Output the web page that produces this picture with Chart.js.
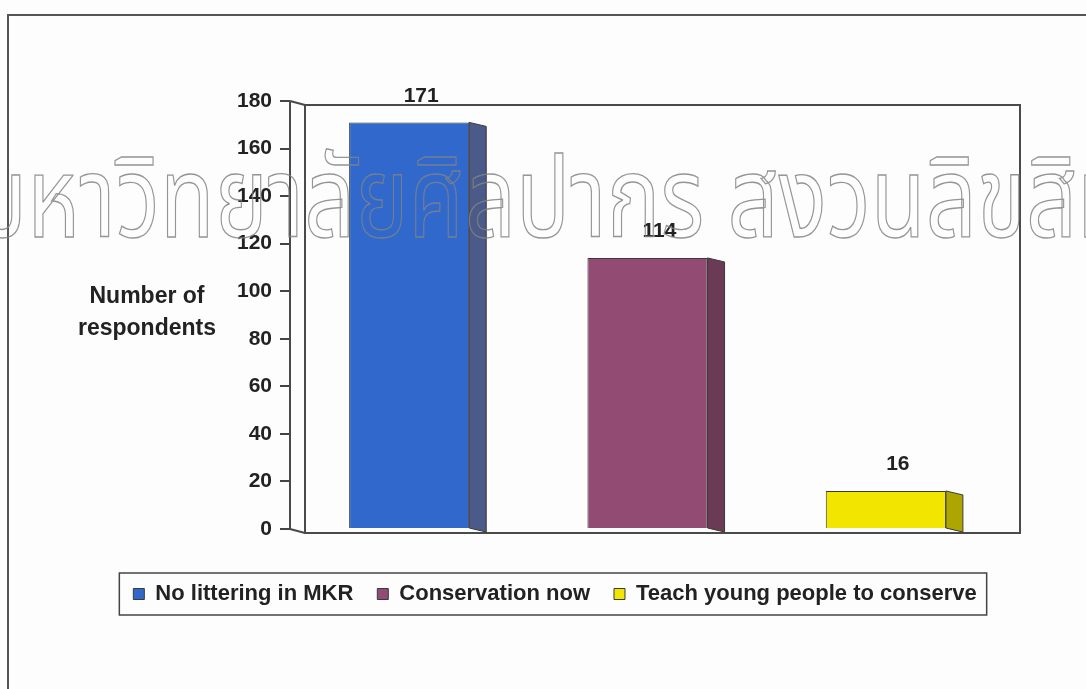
<!DOCTYPE html>
<html>
<head>
<meta charset="utf-8">
<script src="https://cdn.jsdelivr.net/npm/chart.js@4/dist/chart.umd.min.js"></script>
<style>
    html, body { margin: 0; padding: 0; background: #fff; }
    #wrap { position: relative; width: 1086px; height: 689px; }
</style>
</head>
<body>
<div id="wrap"><canvas id="surveyChart" width="1086" height="689"></canvas></div>
<script>
// survey answers
const categories = ['No littering in MKR', 'Conservation now', 'Teach young people to conserve'];
const respondents = [171, 114, 16];
const yTicks = [0, 20, 40, 60, 80, 100, 120, 140, 160, 180];
const yTitle = ['Number of', 'respondents'];
const watermark = 'มหาวิทยาลัยศิลปากร สงวนลิขสิทธิ์';

const frontColors = ['#3168cc', '#924b72', '#f2e600'];
const sideColors = ['#4b5a88', '#6b3b56', '#aea600'];

const DEPTH_X = 15;
const DEPTH_Y = 4;
const FONT = '"Liberation Sans", Arial, sans-serif';

// one dataset per answer so every bar gets its own legend entry
const datasets = categories.map((name, i) => ({
    label: name,
    data: categories.map((_, j) => (j === i ? respondents[i] : null)),
    backgroundColor: frontColors[i],
    borderColor: '#3a3a3a',
    borderWidth: 1,
    barPercentage: 0.504,
    categoryPercentage: 1
}));

// plot box drawn with a little depth: back wall, floor edge and slanted ticks
const boxPlugin = {
    id: 'box3d',
    beforeDatasetsDraw(chart) {
        const { ctx, chartArea: a } = chart;
        ctx.save();
        ctx.strokeStyle = '#4a4a4a';
        ctx.lineWidth = 2;
        ctx.strokeRect(a.left + DEPTH_X, a.top + DEPTH_Y, a.right - a.left, a.bottom - a.top);
        ctx.beginPath();
        ctx.moveTo(a.left, a.top);
        ctx.lineTo(a.left, a.bottom);
        ctx.moveTo(a.left, a.top);
        ctx.lineTo(a.left + DEPTH_X, a.top + DEPTH_Y);
        ctx.moveTo(a.left, a.bottom);
        ctx.lineTo(a.left + DEPTH_X, a.bottom + DEPTH_Y);
        ctx.stroke();
        ctx.restore();
    },
    afterDatasetsDraw(chart) {
        const { ctx } = chart;
        ctx.save();
        chart.data.datasets.forEach((ds, i) => {
            const meta = chart.getDatasetMeta(i);
            meta.data.forEach((bar, j) => {
                if (ds.data[j] == null) return;
                const { x, y, base, width } = bar.getProps(['x', 'y', 'base', 'width'], true);
                const r = x + width / 2;
                // side face
                ctx.beginPath();
                ctx.moveTo(r, y);
                ctx.lineTo(r + DEPTH_X + 2, y + DEPTH_Y);
                ctx.lineTo(r + DEPTH_X + 2, base + DEPTH_Y);
                ctx.lineTo(r, base);
                ctx.closePath();
                ctx.fillStyle = sideColors[i];
                ctx.fill();
                ctx.strokeStyle = '#3a3a3a';
                ctx.lineWidth = 1;
                ctx.stroke();
                // value label
                ctx.fillStyle = '#222';
                ctx.font = 'bold 21px ' + FONT;
                ctx.textAlign = 'center';
                ctx.textBaseline = 'bottom';
                ctx.fillText(String(ds.data[j]), x + 12, y - 16);
            });
        });
        ctx.restore();
    }
};

// outer frame, axis title, legend border and the watermark
const decorPlugin = {
    id: 'decor',
    beforeDraw(chart) {
        const { ctx } = chart;
        ctx.save();
        ctx.fillStyle = '#fdfdfd';
        ctx.fillRect(0, 0, chart.width, chart.height);
        ctx.strokeStyle = '#555';
        ctx.lineWidth = 2;
        ctx.strokeRect(8, 15, chart.width + 20, chart.height + 20);
        ctx.restore();
    },
    afterDraw(chart) {
        const { ctx, legend } = chart;
        ctx.save();
        ctx.fillStyle = '#222';
        ctx.font = 'bold 23px ' + FONT;
        ctx.textAlign = 'center';
        ctx.textBaseline = 'middle';
        ctx.fillText(yTitle[0], 147, 297);
        ctx.fillText(yTitle[1], 147, 329);

        // border round the legend items
        const items = legend.legendHitBoxes;
        if (items.length) {
            const first = items[0];
            const last = items[items.length - 1];
            ctx.strokeStyle = '#444';
            ctx.lineWidth = 1.5;
            ctx.strokeRect(first.left - 14, first.top - 10, last.left + last.width - first.left + 24, first.height + 20);
        }

        ctx.font = '112px "Noto Sans Thai", "Noto Serif Thai", "TH Sarabun New", "Loma", "Garuda", "DejaVu Sans", sans-serif';
        ctx.textAlign = 'left';
        ctx.textBaseline = 'alphabetic';
        ctx.strokeStyle = 'rgba(130,130,130,0.85)';
        ctx.lineWidth = 1.4;
        ctx.translate(-28, 237);
        ctx.scale(0.8, 1);
        ctx.strokeText(watermark, 0, 0);
        ctx.restore();
    }
};

new Chart(document.getElementById('surveyChart'), {
    type: 'bar',
    data: {
        labels: categories,
        datasets: datasets
    },
    options: {
        responsive: false,
        animation: false,
        layout: {
            padding: { left: 105, right: 81, top: 101, bottom: 74 }
        },
        datasets: {
            bar: { grouped: false }
        },
        plugins: {
            legend: {
                position: 'bottom',
                labels: {
                    color: '#222',
                    font: { family: FONT, size: 22, weight: 'bold' },
                    boxWidth: 11,
                    boxHeight: 11,
                    padding: 24
                }
            },
            tooltip: { enabled: false }
        },
        scales: {
            x: {
                grid: { display: false },
                border: { display: false },
                ticks: { display: false },
                afterFit(scale) {
                    scale.height = 30;
                }
            },
            y: {
                min: 0,
                max: 180,
                afterBuildTicks(scale) {
                    scale.ticks = yTicks.map(v => ({ value: v }));
                },
                afterFit(scale) {
                    scale.width = 185;
                },
                border: { display: false },
                grid: {
                    drawOnChartArea: false,
                    drawTicks: true,
                    tickLength: 10,
                    color: '#444',
                    lineWidth: 2
                },
                ticks: {
                    color: '#222',
                    padding: 8,
                    font: { family: FONT, size: 21, weight: 'bold' }
                }
            }
        }
    },
    plugins: [decorPlugin, boxPlugin]
});
</script>
</body>
</html>
